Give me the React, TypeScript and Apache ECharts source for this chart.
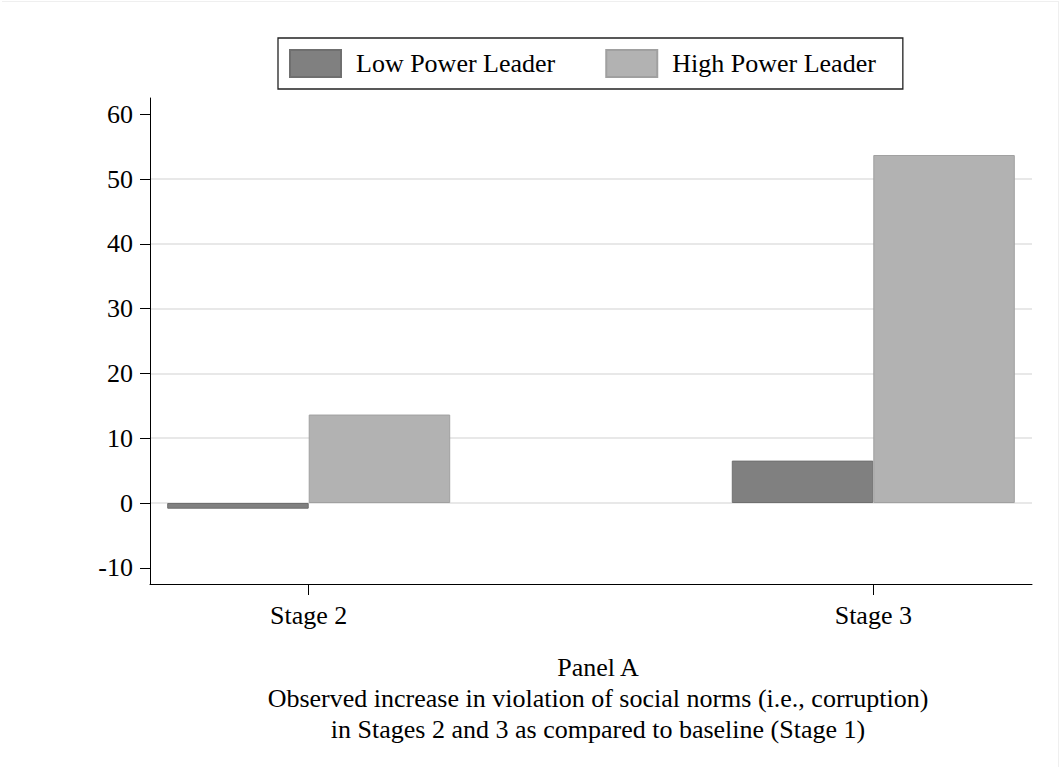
import React, { useEffect, useRef } from "react";
import * as echarts from "echarts";

const categories = ["Stage 2", "Stage 3"];
const seriesNames = ["Low Power Leader", "High Power Leader"];
const lowPower = [-0.88, 6.54];
const highPower = [13.65, 53.7];
const yTicks = [-10, 0, 10, 20, 30, 40, 50, 60];
const gridValues = [0, 10, 20, 30, 40, 50];
const captionLines = [
  "Panel A",
  "Observed increase in violation of social norms (i.e., corruption)",
  "in Stages 2 and 3 as compared to baseline (Stage 1)",
];

const FONT = '"Liberation Serif", "Times New Roman", serif';
const FS = 26;

export default function App() {
  const ref = useRef<HTMLDivElement>(null);
  useEffect(() => {
    if (!ref.current) return;
    const chart = echarts.init(ref.current, null, { renderer: "svg" });
    const catIdx = categories.map((_, i) => i);
    chart.setOption({
      animation: false,
      backgroundColor: "#ffffff",
      textStyle: { fontFamily: FONT },
      grid: { left: 150, right: 27, top: 98, bottom: 183, containLabel: false },
      legend: {
        left: 278,
        top: 38,
        orient: "horizontal",
        padding: [11, 27, 11, 11],
        itemGap: 50,
        itemWidth: 51,
        itemHeight: 27,
        borderColor: "#222",
        borderWidth: 1.3,
        borderRadius: 0,
        icon: "rect",
        selectedMode: false,
        textStyle: { fontFamily: FONT, fontSize: FS, color: "#000", padding: [0, 0, 0, 10] },
        data: seriesNames,
      },
      xAxis: {
        type: "value",
        min: -0.2811,
        max: 1.2811,
        axisLine: { show: true, onZero: false, lineStyle: { color: "#000", width: 1 } },
        axisTick: { show: true, customValues: catIdx, length: 11, lineStyle: { color: "#000" } },
        axisLabel: {
          customValues: catIdx,
          formatter: (v: number) => categories[Math.round(v)] ?? "",
          fontFamily: FONT,
          fontSize: FS,
          color: "#000",
          margin: 18,
        },
        splitLine: { show: false },
      },
      yAxis: {
        type: "value",
        min: -12.5,
        max: 62.5,
        axisLine: { show: true, onZero: false, lineStyle: { color: "#000", width: 1 } },
        axisTick: { show: true, customValues: yTicks, length: 10, lineStyle: { color: "#000" } },
        axisLabel: {
          customValues: yTicks,
          fontFamily: FONT,
          fontSize: FS,
          color: "#000",
          margin: 17,
        },
        splitLine: { show: false },
      },
      series: [
        {
          name: seriesNames[0],
          type: "bar",
          barWidth: 141.5,
          barGap: "0%",
          data: catIdx.map((i) => [i, lowPower[i]]),
          itemStyle: { color: "#808080", borderColor: "#6f6f6f", borderWidth: 1 },
          markLine: {
            silent: true,
            symbol: "none",
            label: { show: false },
            lineStyle: { color: "#e8e8e8", width: 2, type: "solid" },
            z: 0,
            data: gridValues.map((v) => ({ yAxis: v })),
          },
          z: 2,
        },
        {
          name: seriesNames[1],
          type: "bar",
          barWidth: 141.5,
          barGap: "0%",
          data: catIdx.map((i) => [i, highPower[i]]),
          itemStyle: { color: "#b2b2b2", borderColor: "#a0a0a0", borderWidth: 1 },
          z: 2,
        },
      ],
      graphic: [
        {
          type: "line",
          silent: true,
          shape: { x1: 2, y1: 1.5, x2: 1058, y2: 1.5 },
          style: { stroke: "#efefef", lineWidth: 1 },
        },
        {
          type: "line",
          silent: true,
          shape: { x1: 1058.5, y1: 1, x2: 1058.5, y2: 767 },
          style: { stroke: "#efefef", lineWidth: 1 },
        },
        {
          type: "text",
          x: 598,
          y: 652,
          style: {
            text: captionLines.join("\n"),
            fontFamily: FONT,
            fontSize: FS,
            lineHeight: 31,
            fill: "#000",
            align: "center",
            verticalAlign: "top",
          },
        },
      ],
    });
    return () => chart.dispose();
  }, []);
  return (
    <div
      ref={ref}
      style={{ position: "absolute", left: 0, top: 0, width: 1059, height: 767 }}
    />
  );
}
